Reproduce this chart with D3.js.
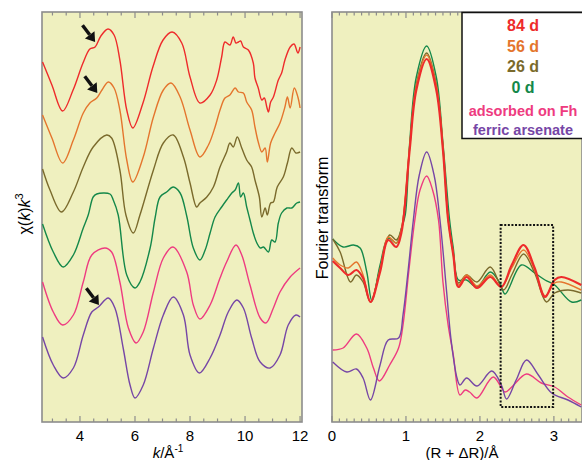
<!DOCTYPE html>
<html>
<head>
<meta charset="utf-8">
<script src="https://cdn.jsdelivr.net/npm/d3@7"></script>
<style>
  body { margin: 0; background: #fff; }
  svg { display: block; font-family: "Liberation Sans", Arial, Helvetica, sans-serif; }
</style>
</head>
<body>
<div id="container"></div>
<script>
// EXAFS chi(k)k^3, stacked (arbitrary units)
var chi84 = [[2.64,36.0],[2.98,33.7],[3.37,31.1],[3.75,33.2],[4.11,35.9],[4.36,37.3],[4.55,37.5],[4.76,38.6],[5.02,39.3],[5.24,38.7],[5.45,36.2],[5.70,31.2],[5.92,29.4],[6.29,31.9],[6.65,35.5],[7.02,38.2],[7.35,39.0],[7.70,37.9],[8.0,34.5],[8.36,31.9],[8.73,32.7],[8.97,34.2],[9.15,36.5],[9.27,38.0],[9.45,37.7],[9.57,38.5],[9.67,37.9],[9.76,38.0],[9.84,38.1],[9.94,37.5],[10.12,37.2],[10.30,35.9],[10.36,34.4],[10.48,33.4],[10.61,32.2],[10.70,32.4],[10.79,31.5],[10.85,31.0],[10.93,32.0],[11.03,32.5],[11.21,34.2],[11.33,34.9],[11.45,36.2],[11.64,37.5],[11.78,37.8],[11.92,36.9],[12.0,37.5]];
var chi56 = [[2.64,30.7],[2.98,28.4],[3.37,25.9],[3.76,28.2],[4.12,30.9],[4.36,31.9],[4.61,32.4],[4.8,33.2],[5.03,34.0],[5.24,33.4],[5.45,31.2],[5.70,26.2],[5.92,24.0],[6.30,26.5],[6.67,30.5],[7.03,33.2],[7.31,33.9],[7.64,32.5],[8.0,29.2],[8.36,26.5],[8.67,27.7],[8.91,29.5],[9.09,31.2],[9.27,32.4],[9.45,32.7],[9.64,33.4],[9.76,33.0],[9.94,32.9],[10.06,32.0],[10.24,31.2],[10.36,29.5],[10.48,28.0],[10.61,27.0],[10.73,27.4],[10.81,26.0],[10.93,27.9],[11.09,28.9],[11.27,29.9],[11.45,31.5],[11.54,32.5],[11.64,31.4],[11.79,33.4],[11.92,32.5],[12.0,31.4]];
var chi26 = [[2.64,25.3],[2.91,23.2],[3.33,21.0],[3.76,23.0],[4.12,25.5],[4.48,27.5],[4.97,28.7],[5.15,28.4],[5.45,25.2],[5.67,20.7],[5.94,18.9],[6.18,20.7],[6.67,25.2],[7.03,27.9],[7.39,28.7],[7.76,26.5],[8.0,23.9],[8.24,21.5],[8.36,21.9],[8.61,22.5],[8.85,23.5],[9.09,25.5],[9.33,27.0],[9.45,27.9],[9.57,27.5],[9.72,28.5],[9.88,27.4],[10.06,26.2],[10.24,25.5],[10.36,24.2],[10.52,22.5],[10.61,20.5],[10.73,21.4],[10.81,20.7],[10.93,21.9],[11.03,22.0],[11.17,23.5],[11.39,24.5],[11.54,25.9],[11.70,27.4],[11.85,26.9],[12.0,27.0]];
var chi0 = [[2.64,19.8],[3.03,17.0],[3.39,15.5],[3.76,16.7],[4.12,19.4],[4.30,20.7],[4.48,22.5],[4.61,22.8],[5.09,22.8],[5.21,22.2],[5.39,20.7],[5.70,14.7],[6.0,13.4],[6.18,14.0],[6.55,17.4],[6.73,20.4],[6.91,22.5],[7.15,23.0],[7.39,23.5],[7.64,22.9],[7.88,20.6],[8.12,17.4],[8.36,16.2],[8.55,17.2],[8.73,18.9],[8.91,20.5],[9.15,21.5],[9.33,22.2],[9.52,22.9],[9.64,23.2],[9.76,23.9],[9.84,22.5],[9.94,22.9],[10.06,21.5],[10.18,20.2],[10.30,18.9],[10.43,17.9],[10.55,17.4],[10.67,17.5],[10.85,17.0],[10.97,18.2],[11.09,18.0],[11.21,19.9],[11.33,20.9],[11.52,21.4],[11.70,21.4],[11.88,21.9],[12.0,22.0]];
var chiFh = [[2.64,14.0],[3.03,11.0],[3.37,9.7],[3.76,10.7],[4.12,14.0],[4.43,16.7],[4.91,17.4],[5.15,17.0],[5.45,14.0],[5.76,9.4],[6.04,7.9],[6.30,9.0],[6.67,13.0],[7.03,16.4],[7.38,17.5],[7.88,15.0],[8.12,11.7],[8.36,10.3],[8.73,11.7],[9.09,14.4],[9.33,16.0],[9.67,17.7],[9.88,16.7],[10.18,13.7],[10.55,10.4],[10.76,9.9],[11.03,11.4],[11.27,13.0],[11.64,14.5],[12.0,15.4]];
var chiFA = [[2.64,8.5],[3.03,5.7],[3.39,4.4],[3.76,5.4],[4.12,8.7],[4.43,11.0],[4.67,11.5],[5.03,12.4],[5.27,11.4],[5.57,7.4],[5.82,3.7],[6.0,2.4],[6.30,3.7],[6.67,7.4],[7.03,10.7],[7.39,12.5],[7.76,10.7],[8.0,6.7],[8.34,4.9],[8.73,6.4],[9.09,8.7],[9.39,11.0],[9.70,12.2],[9.94,11.4],[10.24,8.4],[10.55,6.0],[10.91,5.4],[11.27,6.7],[11.57,9.7],[11.85,10.7],[12.0,10.5]];

// Fourier transform magnitude, stacked (arbitrary units)
var ft84 = [[0.01,16.1],[0.11,15.4],[0.22,14.7],[0.33,15.2],[0.42,14.4],[0.52,12.0],[0.65,15.0],[0.76,18.2],[0.87,17.5],[0.94,19.0],[1.05,27.2],[1.14,33.2],[1.28,36.3],[1.41,33.2],[1.50,27.2],[1.57,20.2],[1.64,16.7],[1.71,13.5],[1.82,14.5],[1.96,13.4],[2.14,14.5],[2.29,13.5],[2.43,15.7],[2.59,17.7],[2.74,15.4],[2.88,12.5],[3.01,14.2],[3.10,14.5],[3.37,13.7]];
var ft56 = [[0.01,16.4],[0.11,15.7],[0.22,15.4],[0.33,16.0],[0.42,14.7],[0.52,12.0],[0.65,15.2],[0.76,18.5],[0.87,17.9],[0.94,19.3],[1.05,27.6],[1.14,33.6],[1.28,36.7],[1.41,33.6],[1.50,27.6],[1.57,20.4],[1.64,16.9],[1.71,13.7],[1.82,14.7],[1.96,13.6],[2.14,14.7],[2.29,13.5],[2.43,15.4],[2.59,17.2],[2.74,15.2],[2.88,12.6],[3.01,13.9],[3.10,14.0],[3.37,13.2]];
var ft26 = [[0.01,18.3],[0.11,17.0],[0.25,14.0],[0.33,14.7],[0.42,14.0],[0.52,12.0],[0.65,15.4],[0.78,18.7],[0.87,18.2],[0.94,19.4],[1.05,27.4],[1.14,33.8],[1.28,36.9],[1.41,33.8],[1.50,27.4],[1.57,20.3],[1.64,16.8],[1.71,13.9],[1.82,14.7],[1.96,14.0],[2.14,15.5],[2.32,13.2],[2.43,14.7],[2.59,16.8],[2.74,14.9],[2.90,12.0],[3.01,12.9],[3.19,13.2],[3.37,12.9]];
var ft0 = [[0.01,18.3],[0.15,17.5],[0.29,17.7],[0.38,17.4],[0.47,15.0],[0.54,12.1],[0.65,15.7],[0.76,18.4],[0.87,17.9],[0.94,19.4],[0.99,20.7],[1.05,27.9],[1.14,34.5],[1.28,37.6],[1.41,34.5],[1.50,27.9],[1.59,20.2],[1.64,17.4],[1.71,14.2],[1.82,14.2],[1.96,13.5],[2.14,15.0],[2.27,13.9],[2.34,12.8],[2.56,15.7],[2.74,14.9],[2.88,14.2],[3.01,13.7],[3.24,12.0],[3.37,12.2]];
var ftFh = [[0.01,7.2],[0.15,7.4],[0.33,8.8],[0.47,7.4],[0.56,5.4],[0.64,4.1],[0.78,5.7],[0.90,7.4],[0.96,9.7],[1.04,15.2],[1.12,20.2],[1.19,23.2],[1.28,24.6],[1.36,23.2],[1.44,20.2],[1.50,14.0],[1.57,9.7],[1.64,6.7],[1.73,2.7],[1.80,3.2],[1.86,3.0],[1.96,2.4],[2.18,4.5],[2.34,3.0],[2.43,3.5],[2.63,4.8],[2.83,3.9],[3.01,3.5],[3.19,2.5],[3.37,1.7]];
var ftFA = [[0.01,6.0],[0.20,5.0],[0.33,5.3],[0.42,4.4],[0.52,2.2],[0.65,5.7],[0.76,8.2],[0.90,8.4],[0.96,10.7],[1.03,15.2],[1.10,20.2],[1.18,24.7],[1.28,27.0],[1.38,24.7],[1.46,20.2],[1.55,13.0],[1.61,8.2],[1.69,4.4],[1.73,3.7],[1.82,4.4],[1.96,3.6],[2.16,5.1],[2.29,3.7],[2.36,2.3],[2.49,4.2],[2.63,6.2],[2.79,4.7],[2.97,2.9],[3.19,2.2],[3.37,1.5]];

var names = ["84 d", "56 d", "26 d", "0 d", "adsorbed on Fh", "ferric arsenate"];
var colors = ["#ee2b2b", "#e4752d", "#7a6a2c", "#14884a", "#ee3b80", "#7646a6"];
var chiSeries = [chi84, chi56, chi26, chi0, chiFh, chiFA];
var ftSeries = [ft84, ft56, ft26, ft0, ftFh, ftFA];

var kTicks = [4, 6, 8, 10, 12];
var rTicks = [0, 1, 2, 3];
var arrows = [[4.55, 38.0], [4.63, 32.9], [4.69, 11.7]]; // arrow tips (k, value)
var box = [2.28, 2.99, 1.5, 19.7]; // dotted window R1, R2, v1, v2

var width = 582, height = 460;
var top_y = 12, bottom_y = 422;
var bg = "#eff0bf";

var svg = d3.select("#container").append("svg")
  .attr("width", width).attr("height", height);

var y = d3.scaleLinear().domain([0, 41]).range([bottom_y, top_y]);
var xk = d3.scaleLinear().domain([2.62, 12.07]).range([42, 302]);
var xr = d3.scaleLinear().domain([0, 3.38]).range([332, 582]);

function panel(x, ticksMajor, minorStep, fmt) {
  var x0 = x.range()[0], x1 = x.range()[1];
  svg.append("rect").attr("x", x0).attr("y", top_y)
    .attr("width", x1 - x0).attr("height", bottom_y - top_y)
    .attr("fill", bg).attr("stroke", "#8c8c8c").attr("stroke-width", 1.6);

  var d0 = x.domain()[0], d1 = x.domain()[1];
  var minor = d3.range(Math.ceil(d0 / minorStep) * minorStep, d1 + 1e-9, minorStep);
  var g = svg.append("g").attr("stroke", "#8c8c8c").attr("stroke-width", 1.2);
  minor.forEach(function(v) {
    var isMajor = ticksMajor.some(function(t) { return Math.abs(t - v) < 1e-6; });
    var len = isMajor ? 6 : 3.5;
    g.append("line").attr("x1", x(v)).attr("x2", x(v))
      .attr("y1", bottom_y).attr("y2", bottom_y - len);
    g.append("line").attr("x1", x(v)).attr("x2", x(v))
      .attr("y1", top_y).attr("y2", top_y + len);
  });

  svg.append("g").selectAll("text").data(ticksMajor).enter().append("text")
    .attr("x", function(d) { return x(d); })
    .attr("y", 441)
    .attr("text-anchor", "middle")
    .attr("font-size", 15)
    .text(fmt);
}

panel(xk, kTicks, 0.5, function(d) { return d; });
panel(xr, rTicks, 0.1, function(d) { return d; });

// left panel curves
var lineK = d3.line()
  .x(function(d) { return xk(d[0]); })
  .y(function(d) { return y(d[1]); })
  .curve(d3.curveCatmullRom.alpha(0.5));

svg.append("g").selectAll("path").data(chiSeries).enter().append("path")
  .attr("d", lineK)
  .attr("fill", "none")
  .attr("stroke", function(d, i) { return colors[i]; })
  .attr("stroke-width", 1.4);

// right panel curves (draw 0 d first so red sits on top)
var lineR = d3.line()
  .x(function(d) { return xr(d[0]); })
  .y(function(d) { return y(d[1]); })
  .curve(d3.curveCatmullRom.alpha(0.5));

var order = [3, 2, 1, 0, 4, 5];
svg.append("g").selectAll("path").data(order).enter().append("path")
  .attr("d", function(i) { return lineR(ftSeries[i]); })
  .attr("fill", "none")
  .attr("stroke", function(i) { return colors[i]; })
  .attr("stroke-width", function(i) { return i == 0 ? 2.2 : 1.4; });

// dotted window
svg.append("rect")
  .attr("x", xr(box[0])).attr("y", y(box[3]))
  .attr("width", xr(box[1]) - xr(box[0]))
  .attr("height", y(box[2]) - y(box[3]))
  .attr("fill", "none").attr("stroke", "#111")
  .attr("stroke-width", 2).attr("stroke-dasharray", "2,1.6");

// arrows
var ag = svg.append("g");
arrows.forEach(function(a) {
  var tx = xk(a[0]), ty = y(a[1]);
  var ang = Math.atan2(16, 12);
  var ux = Math.cos(ang), uy = Math.sin(ang);
  var bx = tx - ux * 9, by = ty - uy * 9;
  ag.append("line")
    .attr("x1", tx - ux * 21).attr("y1", ty - uy * 21)
    .attr("x2", bx).attr("y2", by)
    .attr("stroke", "#111").attr("stroke-width", 3.4);
  ag.append("path")
    .attr("d", "M" + tx + "," + ty +
      "L" + (bx - uy * 6) + "," + (by + ux * 6) +
      "L" + (bx + uy * 6) + "," + (by - ux * 6) + "Z")
    .attr("fill", "#111");
});

// legend
var lg = svg.append("g");
lg.append("rect").attr("x", 462).attr("y", 12.5).attr("width", 125).attr("height", 126)
  .attr("fill", "#fff").attr("stroke", "#111").attr("stroke-width", 1.5);
var legY = [31, 52, 72, 93, 116, 135];
lg.selectAll("text").data(names).enter().append("text")
  .attr("x", 523)
  .attr("y", function(d, i) { return legY[i]; })
  .attr("text-anchor", "middle")
  .attr("font-weight", "bold")
  .attr("font-size", function(d, i) { return i < 4 ? 16 : 14.5; })
  .attr("fill", function(d, i) { return colors[i]; })
  .text(function(d) { return d; });

// axis titles
var yl = svg.append("text")
  .attr("transform", "translate(30,214) rotate(-90)")
  .attr("text-anchor", "middle")
  .attr("font-size", 16);
yl.append("tspan").text("χ(");
yl.append("tspan").attr("font-style", "italic").text("k");
yl.append("tspan").text(")");
yl.append("tspan").attr("font-style", "italic").text("k");
yl.append("tspan").attr("font-size", 11).attr("dy", -7).text("3");

svg.append("text")
  .attr("transform", "translate(328,218) rotate(-90)")
  .attr("text-anchor", "middle")
  .attr("font-size", 16)
  .text("Fourier transform");

var xl = svg.append("text")
  .attr("x", 168).attr("y", 458)
  .attr("text-anchor", "middle")
  .attr("font-size", 15);
xl.append("tspan").attr("font-style", "italic").text("k");
xl.append("tspan").text("/Å");
xl.append("tspan").attr("font-size", 10).attr("dy", -6).text("-1");

svg.append("text")
  .attr("x", 462).attr("y", 458)
  .attr("text-anchor", "middle")
  .attr("font-size", 15)
  .text("(R + ΔR)/Å");
</script>
</body>
</html>
